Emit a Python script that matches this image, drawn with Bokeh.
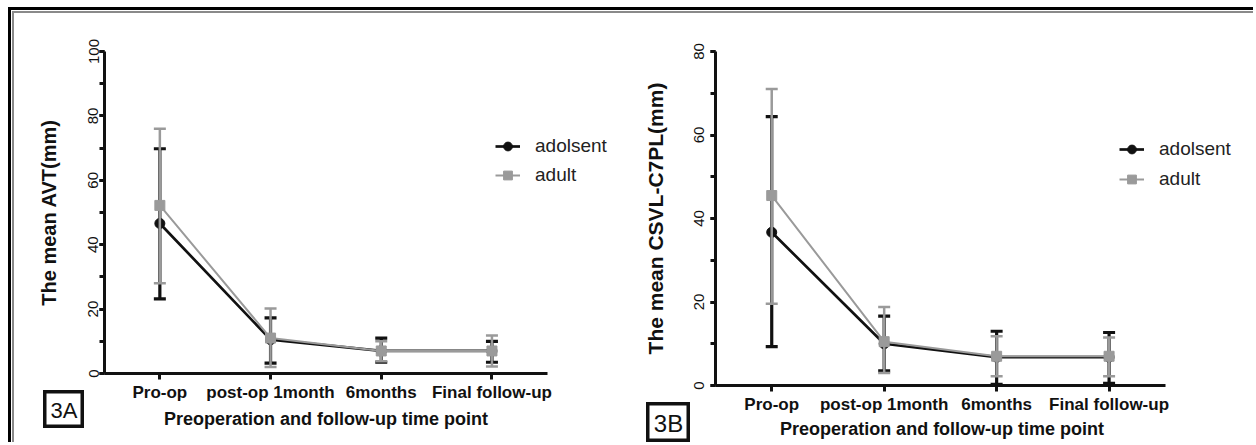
from bokeh.plotting import figure
from bokeh.models import (Range1d, Legend, LegendItem, Label, Div, Title,
                          SingleIntervalTicker, FixedTicker)
from bokeh.embed import file_html
from bokeh.resources import INLINE

categories = ["Pro-op", "post-op 1month", "6months", "Final follow-up"]
series_names = ["adolsent", "adult"]
x_title = "Preoperation and follow-up time point"

# Panel 3A: mean AVT (mm)
avt_adolsent_mean = [46.6, 10.5, 7.0, 7.0]
avt_adolsent_lower = [23.2, 3.2, 3.5, 3.5]
avt_adolsent_upper = [69.8, 17.3, 11.0, 10.0]
avt_adult_mean = [52.2, 11.0, 7.0, 7.0]
avt_adult_lower = [28.0, 2.0, 3.8, 2.2]
avt_adult_upper = [76.0, 20.2, 10.0, 11.8]

# Panel 3B: mean CSVL-C7PL (mm)
csvl_adolsent_mean = [36.7, 10.0, 6.8, 6.8]
csvl_adolsent_lower = [9.3, 3.5, 0.3, 0.5]
csvl_adolsent_upper = [64.4, 16.6, 13.0, 12.7]
csvl_adult_mean = [45.5, 10.5, 7.0, 7.0]
csvl_adult_lower = [19.6, 3.0, 2.2, 2.2]
csvl_adult_upper = [71.0, 18.8, 11.8, 11.5]

BLACK = "#111111"
GRAY = "#9a9a9a"
FONT = "Liberation Sans"
xs = list(range(len(categories)))
TITLE_PX = 18
TITLE_WIDTH_EM = 18.0  # approximate advance width of x_title in bold em


def make_panel(left, top, width, height, ymax, ylabel, series, borders,
               unit_px, legend_loc, legend_font, legend_spacing, ystand,
               xstand, ytitle_size):
    frame_w = width - borders[0] - borders[1]
    p = figure(x_range=Range1d(-0.5, -0.5 + frame_w / unit_px),
               y_range=Range1d(0, ymax),
               width=width, height=height, output_backend="svg",
               toolbar_location=None,
               min_border_left=borders[0], min_border_right=borders[1],
               min_border_top=borders[2], min_border_bottom=borders[3],
               styles={"position": "absolute", "left": f"{left}px",
                       "top": f"{top}px"})
    p.xgrid.visible = False
    p.ygrid.visible = False
    p.outline_line_color = None
    p.background_fill_color = "white"
    p.border_fill_color = "white"

    renderers = []
    for (mean, lower, upper, color, marker, lw, msize) in series:
        p.segment(x0=xs, y0=lower, x1=xs, y1=upper,
                  line_color=color, line_width=lw + 0.5)
        p.scatter(x=xs, y=upper, marker="dash", size=12,
                  line_color=color, line_width=lw + 0.5)
        p.scatter(x=xs, y=lower, marker="dash", size=12,
                  line_color=color, line_width=lw + 0.5)
        ln = p.line(x=xs, y=mean, line_color=color, line_width=lw)
        sc = p.scatter(x=xs, y=mean, marker=marker, size=msize,
                       fill_color=color, line_color=color)
        renderers.append([ln, sc])

    items = [LegendItem(label=n, renderers=r)
             for n, r in zip(series_names, renderers)]
    legend = Legend(items=items, location=legend_loc, border_line_color=None,
                    background_fill_alpha=0, padding=0, margin=0,
                    spacing=legend_spacing, glyph_width=25, glyph_height=22,
                    label_height=22, label_standoff=15,
                    label_text_font=FONT, label_text_font_size=legend_font,
                    label_text_color="#222222")
    p.add_layout(legend)

    xa = p.xaxis[0]
    xa.ticker = FixedTicker(ticks=xs)
    xa.major_label_overrides = {i: c for i, c in zip(xs, categories)}
    xa.bounds = (-0.5, len(categories) - 0.5)
    xa.major_label_text_font = FONT
    xa.major_label_text_font_style = "bold"
    xa.major_label_text_font_size = "17px"
    xa.major_label_text_color = "#111111"
    xa.axis_line_width = 3
    xa.axis_line_color = BLACK
    xa.major_tick_line_width = 3
    xa.major_tick_line_color = BLACK
    xa.major_tick_out = 6
    xa.major_tick_in = 0
    xa.minor_tick_line_color = None
    xa.major_label_standoff = xstand[0]

    # x-axis title centred under the axis line (not under the wider frame)
    axis_center = len(categories) * unit_px / 2
    offset = axis_center - TITLE_WIDTH_EM * TITLE_PX / 2
    p.add_layout(Title(text=x_title, align="left", offset=offset,
                       standoff=xstand[1], text_font=FONT,
                       text_font_size=f"{TITLE_PX}px", text_font_style="bold",
                       text_color="#111111"), "below")

    ya = p.yaxis[0]
    ya.ticker = SingleIntervalTicker(interval=20, num_minor_ticks=2)
    ya.axis_label = ylabel
    ya.axis_label_text_font = FONT
    ya.axis_label_text_font_style = "bold"
    ya.axis_label_text_font_size = ytitle_size
    ya.axis_label_text_color = "#111111"
    ya.major_label_text_font = FONT
    ya.major_label_text_font_size = "15px"
    ya.major_label_text_color = "#111111"
    ya.major_label_orientation = "vertical"
    ya.axis_line_width = 3
    ya.axis_line_color = BLACK
    ya.major_tick_line_width = 3
    ya.major_tick_line_color = BLACK
    ya.minor_tick_line_width = 3
    ya.minor_tick_line_color = BLACK
    ya.major_tick_out = 5
    ya.major_tick_in = 0
    ya.minor_tick_out = 5
    ya.minor_tick_in = 0
    ya.major_label_standoff = ystand[0]
    ya.axis_label_standoff = ystand[1]
    return p


def make_tag(text, left, top, width, height, size):
    t = figure(width=width, height=height, x_range=Range1d(0, 1),
               y_range=Range1d(0, 1), output_backend="svg",
               toolbar_location=None, x_axis_location=None,
               y_axis_location=None, min_border=0,
               styles={"position": "absolute", "left": f"{left}px",
                       "top": f"{top}px"})
    t.xgrid.visible = False
    t.ygrid.visible = False
    t.outline_line_color = BLACK
    t.outline_line_width = 6
    t.add_layout(Label(x=width / 2, y=height / 2 - 1, x_units="screen",
                       y_units="screen", text=text, text_font=FONT,
                       text_font_size=size, text_color="#111111",
                       text_align="center", text_baseline="middle"))
    return t


series_a = [
    (avt_adolsent_mean, avt_adolsent_lower, avt_adolsent_upper, BLACK,
     "circle", 2.7, 10),
    (avt_adult_mean, avt_adult_lower, avt_adult_upper, GRAY,
     "square", 2.0, 10),
]
series_b = [
    (csvl_adolsent_mean, csvl_adolsent_lower, csvl_adolsent_upper, BLACK,
     "circle", 2.7, 10),
    (csvl_adult_mean, csvl_adult_lower, csvl_adult_upper, GRAY,
     "square", 2.0, 10),
]

frame = Div(text="", width=1245, height=435, margin=0, styles={
    "position": "absolute", "left": "8px", "top": "7px",
    "border-top": "3px solid #000", "border-left": "3px solid #000",
    "box-shadow": "inset 1px 1px 0 #fff, inset 3px 3px 0 #8a8a8a",
})

p1 = make_panel(14, 14, 626, 431, 100, "The mean AVT(mm)", series_a,
                (90, 10, 37, 72), 110.7, (391, 187), "19px", 7,
                (1, 26), (3, 5), "20px")
p2 = make_panel(640, 14, 616, 431, 80, "The mean CSVL-C7PL(mm)", series_b,
                (71, 10, 37, 60), 113.3, (404, 195), "19px", 8,
                (7, 24), (3, 0), "21px")

tag_a = make_tag("3A", 43, 390, 41, 38, "22px")
tag_b = make_tag("3B", 646, 402, 44, 40, "24px")

open("out.html", "w").write(file_html([frame, p1, p2, tag_a, tag_b], INLINE))
